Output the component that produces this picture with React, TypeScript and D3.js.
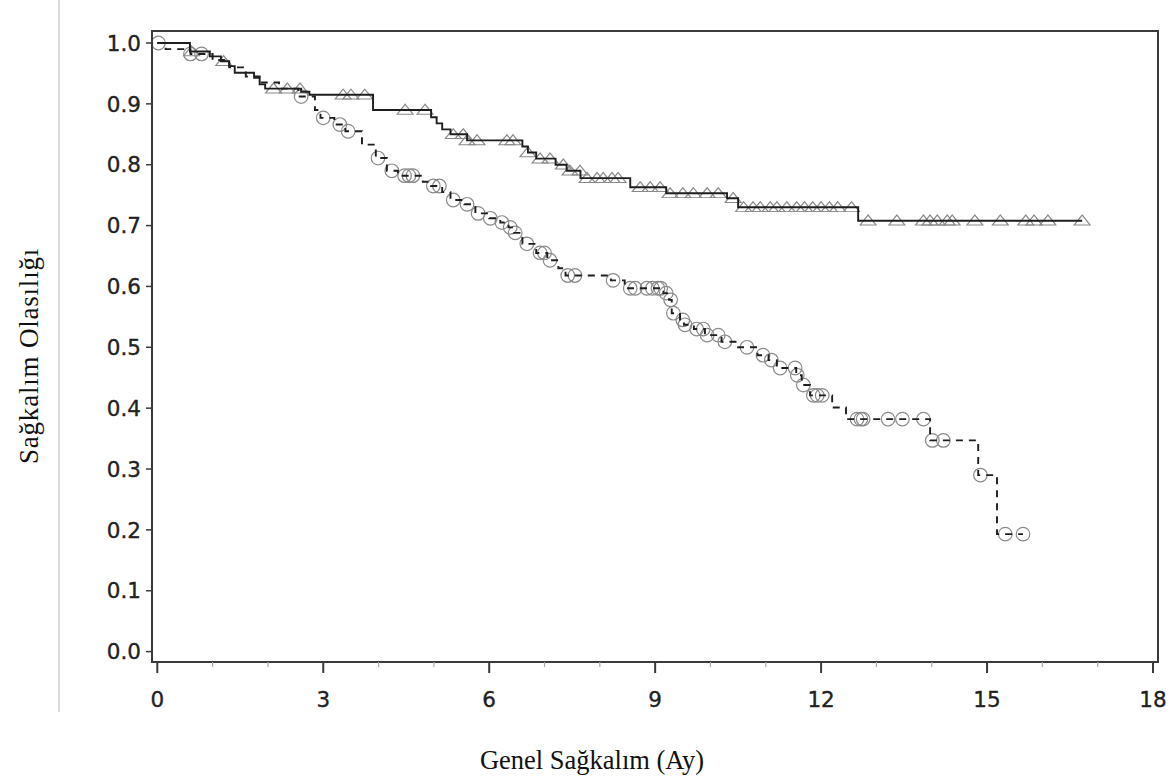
import React from "react";
import * as d3 from "d3";

// solid curve (triangles) - step times and survival after each drop
const stepTimesA = [0.59, 0.95, 1.15, 1.3, 1.4, 1.75, 1.85, 1.95, 2.6, 2.75, 3.9, 4.95, 5.05, 5.15, 5.3, 5.6, 6.6, 6.7, 6.85, 7.2, 7.4, 7.65, 8.55, 9.2, 10.3, 10.5, 12.67];
const survA = [0.986, 0.978, 0.97, 0.962, 0.951, 0.943, 0.932, 0.925, 0.92, 0.915, 0.89, 0.878, 0.868, 0.858, 0.85, 0.84, 0.83, 0.82, 0.81, 0.8, 0.79, 0.778, 0.763, 0.753, 0.745, 0.73, 0.708];
const censorA = [0.62, 1.2, 2.1, 2.35, 2.58, 3.36, 3.5, 3.75, 4.48, 4.84, 5.35, 5.53, 5.6, 5.78, 6.32, 6.43, 6.7, 6.92, 7.1, 7.34, 7.46, 7.64, 7.77, 7.95, 8.06, 8.22, 8.33, 8.73, 8.91, 9.09, 9.27, 9.5, 9.69, 9.94, 10.14, 10.41, 10.6, 10.77, 10.9, 11.08, 11.2, 11.38, 11.56, 11.7, 11.85, 12.0, 12.15, 12.3, 12.55, 12.85, 13.37, 13.85, 13.97, 14.1, 14.28, 14.37, 14.78, 15.24, 15.7, 15.85, 16.1, 16.72];

// dashed curve (circles)
const stepTimesB = [0.15, 0.6, 1.0, 1.3, 1.6, 1.85, 2.2, 2.55, 2.85, 2.95, 3.2, 3.4, 3.7, 3.95, 4.15, 4.35, 4.8, 4.95, 5.15, 5.3, 5.55, 5.75, 6.0, 6.2, 6.35, 6.45, 6.6, 6.85, 7.05, 7.25, 7.38, 8.2, 8.45, 9.15, 9.25, 9.3, 9.45, 9.52, 9.7, 9.9, 10.2, 10.5, 10.85, 11.05, 11.2, 11.55, 11.65, 11.8, 12.2, 12.45, 13.97, 14.84, 15.18];
const survB = [0.99, 0.982, 0.972, 0.96, 0.945, 0.935, 0.925, 0.912, 0.89, 0.877, 0.866, 0.855, 0.833, 0.811, 0.79, 0.782, 0.772, 0.765, 0.755, 0.742, 0.735, 0.72, 0.712, 0.705, 0.697, 0.688, 0.67, 0.655, 0.643, 0.63, 0.618, 0.61, 0.597, 0.589, 0.578, 0.556, 0.545, 0.537, 0.53, 0.52, 0.509, 0.5, 0.487, 0.479, 0.466, 0.454, 0.438, 0.421, 0.401, 0.382, 0.347, 0.29, 0.193];
const censorB = [0.02, 0.6, 0.8, 2.6, 3.0, 3.3, 3.45, 3.99, 4.24, 4.47, 4.55, 4.62, 4.99, 5.1, 5.35, 5.6, 5.8, 6.02, 6.23, 6.38, 6.47, 6.68, 6.92, 7.0, 7.1, 7.42, 7.55, 8.24, 8.55, 8.64, 8.85, 8.95, 9.05, 9.1, 9.2, 9.28, 9.33, 9.5, 9.54, 9.75, 9.87, 9.94, 10.14, 10.26, 10.66, 10.95, 11.1, 11.26, 11.53, 11.57, 11.68, 11.86, 11.93, 12.02, 12.65, 12.72, 12.76, 13.21, 13.47, 13.85, 14.01, 14.21, 14.88, 15.33, 15.65];

const xTicks = [0, 3, 6, 9, 12, 15, 18];
const yTicks = [0, 0.1, 0.2, 0.3, 0.4, 0.5, 0.6, 0.7, 0.8, 0.9, 1.0];
const xTitle = "Genel Sağkalım (Ay)";
const yTitle = "Sağkalım Olasılığı";

const W = 1174;
const H = 778;
const frame = { left: 152, right: 1158, top: 31, bottom: 662 };

export default function App() {
  const x = d3.scaleLinear().domain([0, 18]).range([157.3, 1153]);
  const y = d3.scaleLinear().domain([0, 1]).range([651.6, 43]);

  // survival value at time t
  const survAt = (times: number[], vals: number[], t: number) => {
    let s = 1;
    times.forEach((tt, i) => {
      if (tt <= t) s = vals[i];
    });
    return s;
  };

  const curve = (times: number[], vals: number[], end: number) => {
    const pts: [number, number][] = [[0, 1]];
    times.forEach((t, i) => pts.push([t, vals[i]]));
    pts.push([end, vals[vals.length - 1]]);
    return d3
      .line<[number, number]>()
      .x((d) => x(d[0]))
      .y((d) => y(d[1]))
      .curve(d3.curveStepAfter)(pts);
  };

  const pathA = curve(stepTimesA, survA, d3.max(censorA)!);
  const pathB = curve(stepTimesB, survB, d3.max(censorB)!);
  const minorTicks = d3.range(0, 19).filter((d) => d % 3 !== 0);
  const tri = d3.symbol().type(d3.symbolTriangle).size(70)();
  const fontTick = "'DejaVu Sans', Verdana, sans-serif";
  const fontTitle = "'Liberation Serif', 'Times New Roman', serif";

  return (
    <svg
      width={W}
      height={H}
      style={{ position: "absolute", left: 0, top: 0, background: "#fff" }}
    >
      <line x1={59} x2={59} y1={0} y2={712} stroke="#d0d0d0" strokeWidth={1.5} />

      {/* censor marks */}
      {censorA.map((t, i) => (
        <path
          key={"a" + i}
          d={tri!}
          transform={`translate(${x(t)},${y(survAt(stepTimesA, survA, t)) + 1}) scale(1.25,0.9)`}
          fill="none"
          stroke="#8a8a8a"
          strokeWidth={1.1}
        />
      ))}
      {censorB.map((t, i) => (
        <circle
          key={"b" + i}
          cx={x(t)}
          cy={y(survAt(stepTimesB, survB, t))}
          r={6.8}
          fill="none"
          stroke="#8a8a8a"
          strokeWidth={1.2}
        />
      ))}

      <path d={pathA!} fill="none" stroke="#1e1e1e" strokeWidth={1.9} />
      <path d={pathB!} fill="none" stroke="#1e1e1e" strokeWidth={1.9} strokeDasharray="7,6" />

      {/* frame */}
      <rect
        x={frame.left}
        y={frame.top}
        width={frame.right - frame.left}
        height={frame.bottom - frame.top}
        fill="none"
        stroke="#3a3a3a"
        strokeWidth={2}
      />

      {/* y axis */}
      {yTicks.map((v) => (
        <g key={"y" + v}>
          <line x1={frame.left - 6} x2={frame.left} y1={y(v)} y2={y(v)} stroke="#3a3a3a" strokeWidth={1.5} />
          <text
            x={frame.left - 11}
            y={y(v)}
            dy="0.36em"
            textAnchor="end"
            fontFamily={fontTick}
            fontSize={21.5}
            fill="#222"
            stroke="#222"
            strokeWidth={0.35}
          >
            {v.toFixed(1)}
          </text>
        </g>
      ))}

      {/* x axis */}
      {minorTicks.map((t) => (
        <line key={"m" + t} x1={x(t)} x2={x(t)} y1={frame.bottom} y2={frame.bottom + 5} stroke="#aaa" strokeWidth={1.2} />
      ))}
      {xTicks.map((t) => (
        <g key={"x" + t}>
          <line x1={x(t)} x2={x(t)} y1={frame.bottom} y2={frame.bottom + 11} stroke="#3a3a3a" strokeWidth={2} />
          <text
            x={x(t)}
            y={707}
            textAnchor="middle"
            fontFamily={fontTick}
            fontSize={21.5}
            fill="#222"
            stroke="#222"
            strokeWidth={0.35}
          >
            {t}
          </text>
        </g>
      ))}

      <text x={592} y={769} textAnchor="middle" fontFamily={fontTitle} fontSize={26.5} fill="#111">
        {xTitle}
      </text>
      <text
        transform="translate(38,356) rotate(-90)"
        textAnchor="middle"
        fontFamily={fontTitle}
        fontSize={27}
        letterSpacing={0.8}
        fill="#111"
      >
        {yTitle}
      </text>
    </svg>
  );
}
